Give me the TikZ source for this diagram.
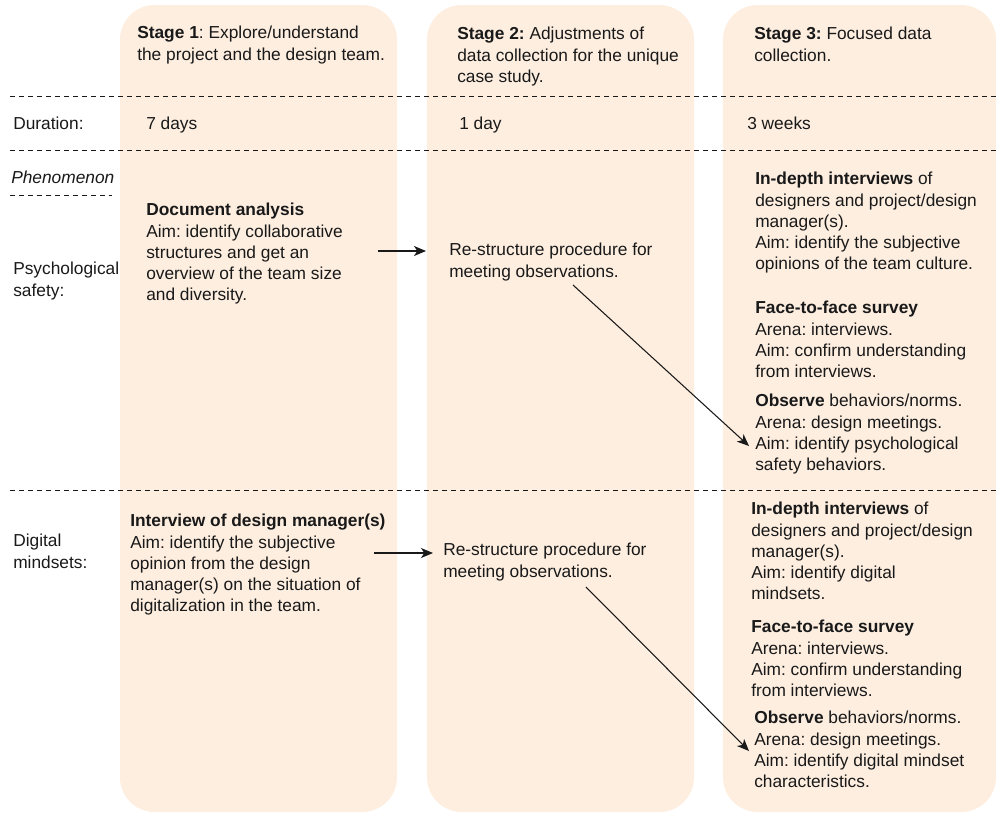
\documentclass[tikz,border=0pt]{standalone}
\usepackage{fontspec}
\setmainfont{Liberation Sans}
\usetikzlibrary{arrows.meta}
\definecolor{stagefill}{RGB}{253,238,224}
\definecolor{ink}{RGB}{25,25,25}
\frenchspacing

\begin{document}
\begin{tikzpicture}[x=0.75pt,y=-0.75pt,
  stagecol/.style={fill=stagefill, draw=none, rounded corners=26pt},
  txt/.style={anchor=north west, inner sep=0pt, align=left, text=ink,
    font=\fontsize{13}{15.9}\selectfont},
  sep/.style={draw=ink, line width=0.75pt, dash pattern=on 3.75pt off 3pt},
  flow/.style={draw=ink, line width=0.8pt,
    -{Stealth[length=9pt,width=7.5pt,inset=2.5pt]}}]
\useasboundingbox (0,0) rectangle (996,814);

% stage columns
\fill[stagecol] (120,5) rectangle (397,812);
\fill[stagecol] (427,5) rectangle (694,812);
\fill[stagecol] (723,5) rectangle (996,812);

% row separators
\draw[sep] (10,96) -- (996,96);
\draw[sep] (10,150) -- (996,150);
\draw[sep] (10,195) -- (112,195);
\draw[sep] (10,490) -- (996,490);

% stage headings
\node[txt] (s1h) at (137,26) {\textbf{Stage 1}: Explore/understand\\the project and the design team.};
\node[txt] (s2h) at (457,27) {\textbf{Stage 2:} Adjustments of\\data collection for the unique\\case study.};
\node[txt] (s3h) at (754,27) {\textbf{Stage 3:} Focused data\\collection.};

% duration row
\node[txt] (dur) at (13,117) {Duration:};
\node[txt] (d1) at (146,117) {7 days};
\node[txt] (d2) at (459,117) {1 day};
\node[txt] (d3) at (747,117) {3 weeks};

% phenomenon labels
\node[txt] (phen) at (11,171) {\itshape Phenomenon};
\node[txt] (psy) at (13,262) {Psychological\\safety:};
\node[txt] (dig) at (13,534) {Digital\\mindsets:};

% psychological safety row
\node[txt] (docan) at (146,203) {\textbf{Document analysis}\\Aim: identify collaborative\\structures and get an\\overview of the team size\\and diversity.};
\node[txt] (rs1) at (449,243) {Re-structure procedure for\\meeting observations.};
\node[txt] (psi) at (755,172) {\textbf{In-depth interviews} of\\designers and project/design\\manager(s).\\Aim: identify the subjective\\opinions of the team culture.};
\node[txt] (psf) at (755,301) {\textbf{Face-to-face survey}\\Arena: interviews.\\Aim: confirm understanding\\from interviews.};
\node[txt] (pso) at (755,394) {\textbf{Observe} behaviors/norms.\\Arena: design meetings.\\Aim: identify psychological\\safety behaviors.};

% digital mindsets row
\node[txt] (intv) at (130,514) {\textbf{Interview of design manager(s)}\\Aim: identify the subjective\\opinion from the design\\manager(s) on the situation of\\digitalization in the team.};
\node[txt] (rs2) at (443,543) {Re-structure procedure for\\meeting observations.};
\node[txt] (dmi) at (751,502) {\textbf{In-depth interviews} of\\designers and project/design\\manager(s).\\Aim: identify digital\\mindsets.};
\node[txt] (dmf) at (751,620) {\textbf{Face-to-face survey}\\Arena: interviews.\\Aim: confirm understanding\\from interviews.};
\node[txt] (dmo) at (754,711) {\textbf{Observe} behaviors/norms.\\Arena: design meetings.\\Aim: identify digital mindset\\characteristics.};

% connector end points
\coordinate (a1s) at (378,251);
\coordinate (a1e) at (426,251);
\coordinate (b1s) at (573,285);
\coordinate (b1e) at (749,446);
\coordinate (a2s) at (374,553);
\coordinate (a2e) at (433,553);
\coordinate (b2s) at (586,587);
\coordinate (b2e) at (749,751);

\draw[flow] (a1s) -- (a1e);
\draw[flow] (b1s) -- (b1e);
\draw[flow] (a2s) -- (a2e);
\draw[flow] (b2s) -- (b2e);
\end{tikzpicture}
\end{document}
